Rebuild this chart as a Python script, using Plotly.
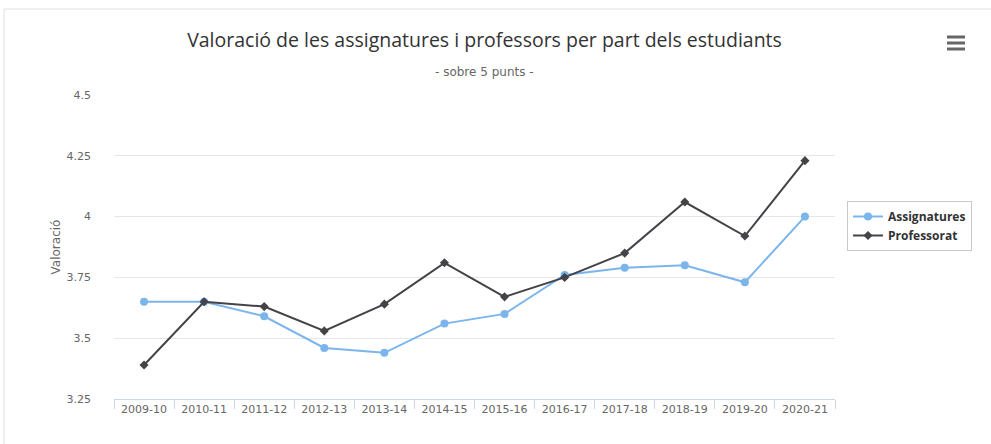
import plotly.graph_objects as go

categories = ["2009-10", "2010-11", "2011-12", "2012-13", "2013-14", "2014-15",
              "2015-16", "2016-17", "2017-18", "2018-19", "2019-20", "2020-21"]
assignatures = [3.65, 3.65, 3.59, 3.46, 3.44, 3.56, 3.60, 3.76, 3.79, 3.80, 3.73, 4.00]
professorat = [3.39, 3.65, 3.63, 3.53, 3.64, 3.81, 3.67, 3.75, 3.85, 4.06, 3.92, 4.23]

W, H = 991, 444
L, R, T, B = 114, 835, 95, 399

def px(x):
    return (x - L) / (R - L)

def py(y):
    return (B - y) / (B - T)

fig = go.Figure()
fig.add_trace(go.Scatter(x=categories, y=assignatures, name="Assignatures", mode="lines+markers",
                         line=dict(color="#7cb5ec", width=2),
                         marker=dict(symbol="circle", size=8, color="#7cb5ec")))
fig.add_trace(go.Scatter(x=categories, y=professorat, name="Professorat", mode="lines+markers",
                         line=dict(color="#434348", width=2),
                         marker=dict(symbol="diamond", size=7, color="#434348")))

shapes = [
    # outer border
    dict(type="rect", xref="paper", yref="paper", x0=px(4), x1=px(1000), y0=py(460), y1=py(9),
         line=dict(color="#e0e0e0", width=1), fillcolor="rgba(0,0,0,0)", layer="below"),
    # legend shadow
    dict(type="rect", xref="paper", yref="paper", x0=px(850), x1=px(971), y0=py(251), y1=py(204),
         line=dict(width=0), fillcolor="#e2e2e2", layer="above"),
]
# hamburger icon
for yy in (37, 43, 49):
    shapes.append(dict(type="line", xref="paper", yref="paper", x0=px(947), x1=px(965),
                       y0=py(yy), y1=py(yy), line=dict(color="#666666", width=3)))

tickfont = dict(size=11, color="#666666", family="DejaVu Sans, sans-serif")

fig.update_layout(
    width=W, height=H,
    margin=dict(l=L, r=W - R, t=T, b=H - B),
    paper_bgcolor="white", plot_bgcolor="white",
    font=dict(family="DejaVu Sans, sans-serif", color="#666666"),
    title=dict(text="Valoració de les assignatures i professors per part dels estudiants",
               x=px(484.5), xref="paper", xanchor="center", y=1 - 40 / H, yanchor="middle",
               font=dict(size=19.5, color="#333333", family="Open Sans, sans-serif")),
    annotations=[dict(text="- sobre 5 punts -", xref="paper", yref="paper",
                      x=px(484.5), y=py(72), showarrow=False, xanchor="center", yanchor="middle",
                      font=dict(size=12, color="#666666", family="DejaVu Sans, sans-serif"))],
    xaxis=dict(type="category", tickson="boundaries", ticks="outside", ticklen=9,
               tickcolor="#ccd6eb", showline=True, linecolor="#ccd6eb", linewidth=1,
               showgrid=False, tickfont=tickfont, range=[-0.5, 11.5]),
    yaxis=dict(range=[3.25, 4.5], dtick=0.25, tick0=3.25, showgrid=True, gridcolor="#e6e6e6",
               zeroline=False, tickfont=tickfont, ticks="", ticklabelstandoff=22,
               title=dict(text="Valoració", font=dict(size=12, color="#666666"), standoff=3)),
    legend=dict(x=px(847), y=py(201), xanchor="left", yanchor="top",
                bgcolor="white", bordercolor="#c8c8c8", borderwidth=1,
                itemwidth=30, tracegroupgap=0,
                font=dict(size=12, color="#333333", family="Open Sans, sans-serif", weight="bold")),
    shapes=shapes,
    showlegend=True,
)

fig.write_html("out.html", config={"displayModeBar": False},
               post_script="document.body.style.margin='0';")
